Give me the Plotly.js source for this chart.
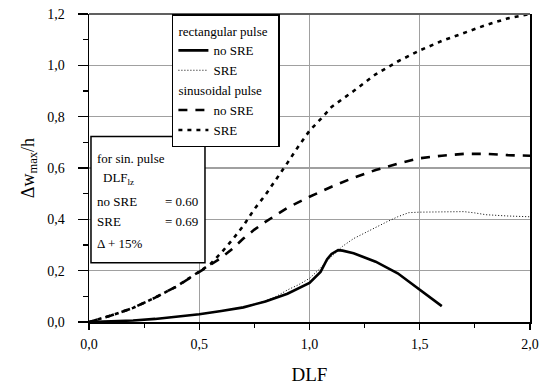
<!DOCTYPE html>
<html><head><meta charset="utf-8">
<script src="https://cdn.plot.ly/plotly-3.0.1.min.js"></script>
<style>html,body{margin:0;padding:0;background:#fff}#chart{width:541px;height:390px}</style>
</head><body><div id="chart"></div>
<script>
// Rectangular pulse, no SRE
const rectNoX = [0,0.1,0.2,0.3,0.4,0.5,0.6,0.7,0.8,0.9,1.0,1.05,1.08,1.1,1.13,1.15,1.2,1.3,1.4,1.5,1.6];
const rectNoY = [0,0.002,0.006,0.012,0.02,0.03,0.043,0.057,0.08,0.11,0.152,0.195,0.245,0.265,0.28,0.278,0.268,0.235,0.19,0.127,0.062];
// Rectangular pulse, SRE
const rectSreX = [0,0.1,0.2,0.3,0.4,0.5,0.6,0.7,0.8,0.85,0.9,0.95,1.0,1.05,1.1,1.15,1.2,1.25,1.3,1.35,1.4,1.45,1.5,1.6,1.7,1.75,1.8,1.9,2.0];
const rectSreY = [0,0.002,0.006,0.012,0.02,0.03,0.043,0.058,0.082,0.1,0.125,0.145,0.17,0.21,0.255,0.295,0.325,0.347,0.37,0.39,0.41,0.426,0.428,0.428,0.43,0.425,0.418,0.413,0.41];
// Sinusoidal pulse, no SRE
const sinNoX = [0,0.1,0.2,0.3,0.4,0.5,0.55,0.6,0.65,0.7,0.75,0.8,0.9,1.0,1.1,1.2,1.3,1.4,1.5,1.6,1.7,1.8,1.9,2.0];
const sinNoY = [0,0.025,0.055,0.095,0.14,0.195,0.22,0.25,0.285,0.325,0.36,0.39,0.445,0.488,0.527,0.562,0.592,0.617,0.638,0.648,0.655,0.655,0.65,0.648];
// Sinusoidal pulse, SRE
const sinSreX = [0,0.1,0.2,0.3,0.4,0.5,0.55,0.6,0.65,0.7,0.75,0.8,0.85,0.9,0.95,1.0,1.05,1.1,1.2,1.3,1.4,1.5,1.6,1.7,1.8,1.9,2.0];
const sinSreY = [0,0.025,0.055,0.095,0.14,0.195,0.225,0.27,0.32,0.375,0.44,0.495,0.556,0.62,0.685,0.745,0.79,0.838,0.9,0.965,1.015,1.058,1.095,1.127,1.157,1.183,1.2];

const xTickVals = [0,0.5,1.0,1.5,2.0];
const yTickVals = [0,0.2,0.4,0.6,0.8,1.0,1.2];

const serif = 'Liberation Serif';

const traces = [
  {x: rectNoX, y: rectNoY, mode:'lines', name:'no SRE', legendgroup:'rect',
   legendgrouptitle:{text:'rectangular pulse', font:{family:serif,size:13,color:'#000'}},
   line:{color:'#000', width:2.6}},
  {x: rectSreX, y: rectSreY, mode:'lines', name:'SRE', legendgroup:'rect',
   line:{color:'#000', width:1, dash:'1px,2px'}},
  {x: sinNoX, y: sinNoY, mode:'lines', name:'no SRE', legendgroup:'sin',
   legendgrouptitle:{text:'sinusoidal pulse', font:{family:serif,size:13,color:'#000'}},
   line:{color:'#000', width:2.6, dash:'9px,8px'}},
  {x: sinSreX, y: sinSreY, mode:'lines', name:'SRE', legendgroup:'sin',
   line:{color:'#000', width:2.6, dash:'4px,5px'}}
];

const layout = {
  width:541, height:390,
  margin:{l:89, r:11, t:14, b:68},
  paper_bgcolor:'#fff', plot_bgcolor:'#fff',
  separators:',.',
  font:{family:serif, size:13, color:'#000'},
  showlegend:true,
  legend:{x:0.188, y:1, xanchor:'left', yanchor:'top', bgcolor:'#fff',
    bordercolor:'#000', borderwidth:1.5, traceorder:'grouped', tracegroupgap:0,
    font:{family:serif, size:13, color:'#000'}, itemwidth:30},
  xaxis:{range:[0,2], tickvals:xTickVals, tickformat:'.1f', showgrid:true,
    gridcolor:'#a0a0a0', gridwidth:1.2, zeroline:false, showline:true, linecolor:'#000', linewidth:1.5,
    ticks:'outside', ticklen:6, tickcolor:'#000', tickwidth:1.2,
    minor:{dtick:0.25, ticks:'outside', ticklen:4, tickcolor:'#000', showgrid:false},
    tickfont:{family:serif, size:14}, ticklabelstandoff:3,
    title:{text:'DLF', font:{family:serif, size:19}, standoff:16}},
  yaxis:{range:[0,1.2], tickvals:yTickVals, tickformat:'.1f', showgrid:true,
    gridcolor:'#a0a0a0', gridwidth:1.2, zeroline:false, showline:true, linecolor:'#000', linewidth:1.5,
    mirror:true,
    ticks:'outside', ticklen:10, tickcolor:'#000', tickwidth:1.2,
    minor:{dtick:0.1, ticks:'outside', ticklen:5, tickcolor:'#000', showgrid:false},
    tickfont:{family:serif, size:14}, ticklabelstandoff:10,
    title:{text:'\u0394w<sub>max</sub>/h', font:{family:serif, size:18}, standoff:8}},
  shapes:[
    {type:'line', xref:'paper', yref:'paper', x0:0, x1:1, y0:1, y1:1, line:{color:'#606060', width:2}},
    {type:'rect', xref:'paper', yref:'paper', x0:0.0045, x1:0.263, y0:0.1925, y1:0.602,
     fillcolor:'#fff', line:{color:'#000', width:1.5}, layer:'above'}
  ],
  annotations:[
    {xref:'paper', yref:'paper', x:0.013, y:0.532, xanchor:'left', yanchor:'middle', showarrow:false, text:'for sin. pulse', font:{family:serif,size:13}},
    {xref:'paper', yref:'paper', x:0.028, y:0.465, xanchor:'left', yanchor:'middle', showarrow:false, text:'DLF<sub>lz</sub>', font:{family:serif,size:13}},
    {xref:'paper', yref:'paper', x:0.013, y:0.39, xanchor:'left', yanchor:'middle', showarrow:false, text:'no SRE', font:{family:serif,size:13}},
    {xref:'paper', yref:'paper', x:0.167, y:0.39, xanchor:'left', yanchor:'middle', showarrow:false, text:'= 0.60', font:{family:serif,size:13}},
    {xref:'paper', yref:'paper', x:0.013, y:0.325, xanchor:'left', yanchor:'middle', showarrow:false, text:'SRE', font:{family:serif,size:13}},
    {xref:'paper', yref:'paper', x:0.167, y:0.325, xanchor:'left', yanchor:'middle', showarrow:false, text:'= 0.69', font:{family:serif,size:13}},
    {xref:'paper', yref:'paper', x:0.013, y:0.255, xanchor:'left', yanchor:'middle', showarrow:false, text:'\u0394 + 15%', font:{family:serif,size:13}}
  ]
};

Plotly.newPlot('chart', traces, layout, {displayModeBar:false, staticPlot:true});
</script></body></html>
